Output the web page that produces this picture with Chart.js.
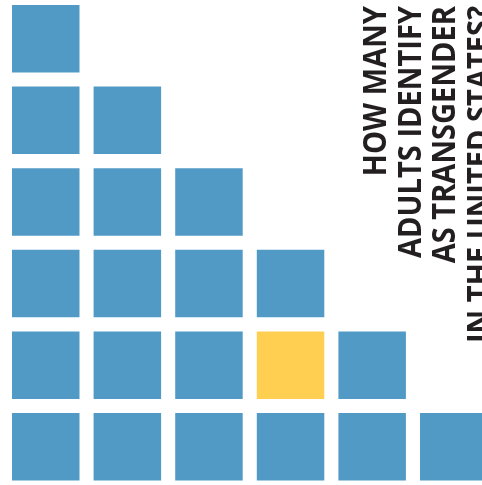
<!DOCTYPE html>
<html>
<head>
<meta charset="utf-8">
<script src="https://cdn.jsdelivr.net/npm/chart.js@4/dist/chart.umd.min.js"></script>
<style>
  html, body { margin: 0; padding: 0; background: #fff; overflow: hidden; }
  #wrap { width: 482px; height: 485px; position: relative; }
</style>
</head>
<body>
<div id="wrap"><canvas id="unitChart"></canvas></div>
<script>
// one square = one unit, column/row position of each
var blueCols = [1,1,1,1,1,1, 2,2,2,2,2, 3,3,3,3, 4,4, 5,5, 6];
var blueRows = [1,2,3,4,5,6, 1,2,3,4,5, 1,2,3,4, 1,3, 1,2, 1];
var yellowCols = [4];
var yellowRows = [2];

var titleLines = ["HOW MANY", "ADULTS IDENTIFY", "AS TRANSGENDER", "IN THE UNITED STATES?"];

var blueColor = "#529ac6";
var yellowColor = "#fecf50";

function toPoints(xs, ys) {
  var pts = [];
  for (var i = 0; i < xs.length; i++) {
    pts.push({x: xs[i], y: ys[i]});
  }
  return pts;
}

var titlePlugin = {
  id: "sideTitle",
  afterDraw: function(chart) {
    var ctx = chart.ctx;
    var baseX = [386, 420.5, 455, 489.5];
    ctx.save();
    ctx.fillStyle = "#231f20";
    ctx.font = "700 32px 'Open Sans'";
    ctx.textAlign = "right";
    ctx.textBaseline = "alphabetic";
    // squeeze along the text a bit, the original face is narrower
    var sx = 337 / ctx.measureText(titleLines[3]).width;
    for (var i = 0; i < titleLines.length; i++) {
      ctx.save();
      ctx.translate(baseX[i], 6);
      ctx.rotate(-Math.PI / 2);
      ctx.scale(sx, 1);
      ctx.fillText(titleLines[i], 0, 0);
      ctx.restore();
    }
    ctx.restore();
  }
};

var side = 67.5;

var chart = new Chart(document.getElementById("unitChart"), {
  type: "scatter",
  data: {
    datasets: [{
      label: "Adults",
      data: toPoints(blueCols, blueRows),
      pointStyle: "rect",
      pointRadius: side / Math.SQRT2,
      pointHoverRadius: side / Math.SQRT2,
      backgroundColor: blueColor,
      borderWidth: 0
    }, {
      label: "Transgender",
      data: toPoints(yellowCols, yellowRows),
      pointStyle: "rect",
      pointRadius: side / Math.SQRT2,
      pointHoverRadius: side / Math.SQRT2,
      backgroundColor: yellowColor,
      borderWidth: 0
    }]
  },
  options: {
    responsive: true,
    maintainAspectRatio: false,
    animation: false,
    layout: { padding: 0, autoPadding: false },
    plugins: {
      legend: { display: false },
      tooltip: { enabled: false },
      title: { display: false }
    },
    scales: {
      x: { type: "linear", display: false, min: 0.4393, max: 6.3462 },
      y: { type: "linear", display: false, min: 0.53125, max: 6.4749 }
    }
  },
  plugins: [titlePlugin]
});
</script>
</body>
</html>
